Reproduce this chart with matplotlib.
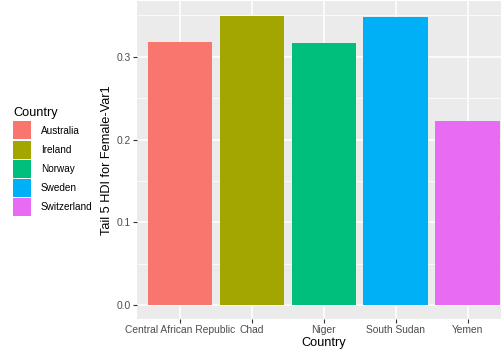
import matplotlib
matplotlib.use("Agg")
import matplotlib.pyplot as plt
from matplotlib.patches import Rectangle

plt.rcParams['font.family'] = ['Liberation Sans', 'DejaVu Sans']

categories = ["Central African Republic", "Chad", "Niger", "South Sudan", "Yemen"]
values = [0.318, 0.3498, 0.3164, 0.3479, 0.2229]
legend_labels = ["Australia", "Ireland", "Norway", "Sweden", "Switzerland"]
colors = ["#F8766D", "#A3A500", "#00BF7D", "#00B0F6", "#E76BF3"]
yticks = [0.0, 0.1, 0.2, 0.3]
yminor = [0.05, 0.15, 0.25, 0.35]

W, H = 502, 354
fig = plt.figure(figsize=(W / 100, H / 100), dpi=100)

px_left, px_right = 136.8, 511.0
px_top, px_bottom = 1.2, 319.4
ax = fig.add_axes([px_left / W, 1 - px_bottom / H, (px_right - px_left) / W, (px_bottom - px_top) / H])
ax.set_facecolor("#EBEBEB")

x = list(range(len(categories)))
ax.bar(x, values, width=0.9, color=colors, zorder=3)

vmax = max(values)
ax.set_ylim(-0.05 * vmax, vmax * 1.05)
ax.set_xlim(-0.6, len(categories) - 1 + 0.6)

ax.set_yticks(yticks)
ax.set_yticklabels([f"{t:.1f}" for t in yticks])
ax.set_yticks(yminor, minor=True)
ax.set_xticks(x)
ax.set_xticklabels(categories)

ax.grid(which="major", color="white", linewidth=1.1, zorder=1)
ax.grid(which="minor", axis="y", color="white", linewidth=0.55, zorder=1)
ax.tick_params(which="minor", length=0)
ax.tick_params(which="major", length=2.7, width=0.8, color="#333333",
               labelsize=7.4, labelcolor="#4D4D4D", pad=1.5)
for s in ax.spines.values():
    s.set_visible(False)

ax.set_xlabel("Country", fontsize=9.2, color="black", labelpad=1.5)
ax.set_ylabel("Tail 5 HDI for Female-Var1", fontsize=9.2, color="black", labelpad=3)

# legend (manual, ggplot-like)
fig.text(13 / W, 1 - 113 / H, "Country", fontsize=9.2, ha="left", va="center")
key_top = 121.0
key_h = 19.2
for i, (lab, c) in enumerate(zip(legend_labels, colors)):
    y0 = key_top + i * key_h
    fig.add_artist(Rectangle((13 / W, 1 - (y0 + key_h - 0.8) / H), 18.5 / W, (key_h - 1.2) / H,
                             transform=fig.transFigure, facecolor=c, edgecolor="none"))
    fig.text(41 / W, 1 - (y0 + key_h / 2) / H, lab, fontsize=7.2, ha="left", va="center", color="black")

fig.savefig("out.png", dpi=100)
